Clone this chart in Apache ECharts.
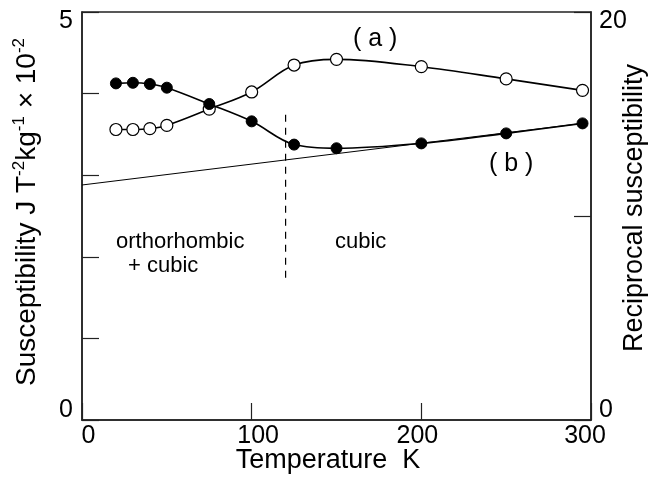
<!DOCTYPE html>
<html>
<head>
<meta charset="utf-8">
<script src="https://cdn.jsdelivr.net/npm/echarts@6/dist/echarts.min.js"></script>
<style>
  html, body { margin: 0; padding: 0; background: #fff; }
  #chart { width: 650px; height: 480px; }
</style>
</head>
<body>
<div id="chart"></div>
<script>
// temperatures (K) of the measured points
const temps = [20, 30, 40, 50, 75, 100, 125, 150, 200, 250, 295];
// (a) susceptibility, left axis (x 10^-2)
const suscA = [3.56, 3.56, 3.57, 3.61, 3.81, 4.02, 4.35, 4.42, 4.33, 4.18, 4.04];
// (b) reciprocal susceptibility, right axis
const recipB = [16.5, 16.53, 16.47, 16.29, 15.49, 14.64, 13.5, 13.32, 13.56, 14.05, 14.54];
// straight Curie-Weiss line (right axis)
const lineT = [0, 295];
const lineV = [11.52, 14.54];
// phase boundary (dashed), left axis values
const boundaryT = 120;
const boundaryV = [3.74, 1.67];

const font = 'Liberation Sans, Arial, sans-serif';

const chart = echarts.init(document.getElementById('chart'));

// nudge labels the way they sit in the figure
function xLabel(v) {
  if (v === 0) return '{r|0}';
  if (v === 100) return '{r|100}';
  if (v === 200) return '{l|200}';
  if (v === 300) return '{l2|300}';
  return '';
}

const option = {
  animation: false,
  backgroundColor: '#fff',
  grid: {
    left: 82, right: 59, top: 12, bottom: 60,
    containLabel: false, outerBoundsMode: 'none',
    show: true, borderColor: '#222', borderWidth: 1.5
  },
  xAxis: {
    type: 'value', min: 0, max: 300, interval: 100,
    name: 'Temperature  K',
    nameLocation: 'middle', nameGap: 27, nameMoveOverlap: false,
    nameTextStyle: { fontFamily: font, fontSize: 27, color: '#000', padding: [0, 17, 0, 0] },
    axisLine: { show: true, lineStyle: { color: '#222', width: 1.5 } },
    axisTick: { show: true, inside: true, length: 17, lineStyle: { color: '#222', width: 1.2 } },
    splitLine: { show: false },
    axisLabel: {
      margin: 4, fontFamily: font, fontSize: 25, color: '#000',
      formatter: xLabel,
      rich: {
        r: { fontFamily: font, fontSize: 25, color: '#000', padding: [0, 0, 0, 13] },
        l: { fontFamily: font, fontSize: 25, color: '#000', padding: [0, 8, 0, 0] },
        l2: { fontFamily: font, fontSize: 25, color: '#000', padding: [0, 12, 0, 0] }
      }
    }
  },
  yAxis: [
    {
      type: 'value', min: 0, max: 5, interval: 1, position: 'left',
      name: '{m|Susceptibility J T}{s|-2}{m|kg}{s|-1}{m| × 10}{s|-2}',
      nameLocation: 'middle', nameGap: 41, nameRotate: 90, nameMoveOverlap: false,
      nameTextStyle: {
        padding: [0, 0, 0, 8],
        rich: {
          m: { fontFamily: font, fontSize: 28, color: '#000', lineHeight: 30, verticalAlign: 'bottom' },
          s: { fontFamily: font, fontSize: 17, color: '#000', lineHeight: 30, verticalAlign: 'top', padding: [0, 0, 12, 0] }
        }
      },
      axisLine: { show: true, lineStyle: { color: '#222', width: 1.5 } },
      axisTick: { show: true, inside: true, length: 17, lineStyle: { color: '#222', width: 1.2 } },
      splitLine: { show: false },
      axisLabel: {
        margin: 9, fontFamily: font, fontSize: 25, color: '#000',
        formatter: function (v) {
          if (v === 5) return '{t|5}';
          if (v === 0) return '{b|0}';
          return '';
        },
        rich: {
          t: { fontFamily: font, fontSize: 25, color: '#000', padding: [18, 0, 0, 0] },
          b: { fontFamily: font, fontSize: 25, color: '#000', padding: [0, 0, 20, 0] }
        }
      }
    },
    {
      type: 'value', min: 0, max: 20, interval: 10, position: 'right',
      name: 'Reciprocal susceptibility',
      nameLocation: 'middle', nameGap: 30, nameRotate: 90, nameMoveOverlap: false,
      nameTextStyle: { fontFamily: font, fontSize: 27, color: '#000', padding: [0, 0, 0, 16] },
      axisLine: { show: true, lineStyle: { color: '#222', width: 1.5 } },
      axisTick: { show: true, inside: true, length: 17, lineStyle: { color: '#222', width: 1.2 } },
      splitLine: { show: false },
      axisLabel: {
        margin: 8, fontFamily: font, fontSize: 25, color: '#000',
        formatter: function (v) {
          if (v === 20) return '{t|20}';
          if (v === 0) return '{b|0}';
          return '';
        },
        rich: {
          t: { fontFamily: font, fontSize: 25, color: '#000', padding: [18, 0, 0, 0] },
          b: { fontFamily: font, fontSize: 25, color: '#000', padding: [0, 0, 20, 0] }
        }
      }
    }
  ],
  series: [
    {
      name: 'line', type: 'line', yAxisIndex: 1,
      data: lineT.map((t, i) => [t, lineV[i]]),
      showSymbol: false, symbol: 'none',
      lineStyle: { color: '#000', width: 1 }, z: 1
    },
    {
      name: 'boundary', type: 'line', yAxisIndex: 0,
      data: boundaryV.map(v => [boundaryT, v]),
      symbol: 'none',
      lineStyle: { color: '#000', width: 1.2, type: [7, 6] }, z: 1
    },
    {
      name: '(a)', type: 'line', yAxisIndex: 0,
      data: temps.map((t, i) => [t, suscA[i]]),
      smooth: 0.35,
      symbol: 'circle', symbolSize: 12,
      itemStyle: { color: '#fff', borderColor: '#000', borderWidth: 1.2 },
      lineStyle: { color: '#000', width: 1.6 }, z: 2
    },
    {
      name: '(b)', type: 'line', yAxisIndex: 1,
      data: temps.map((t, i) => [t, recipB[i]]),
      smooth: 0.35,
      symbol: 'circle', symbolSize: 11,
      itemStyle: { color: '#000', borderColor: '#000', borderWidth: 1 },
      lineStyle: { color: '#000', width: 1.6 }, z: 3
    }
  ],
  graphic: [
    { type: 'text', left: 353, top: 27, style: { text: '( a )', font: '25px ' + font, fill: '#000' } },
    { type: 'text', left: 489, top: 152, style: { text: '( b )', font: '25px ' + font, fill: '#000' } },
    { type: 'text', left: 116, top: 231, style: { text: 'orthorhombic', font: '22px ' + font, fill: '#000' } },
    { type: 'text', left: 128, top: 255, style: { text: '+ cubic', font: '22px ' + font, fill: '#000' } },
    { type: 'text', left: 335, top: 231, style: { text: 'cubic', font: '22px ' + font, fill: '#000' } }
  ]
};

chart.setOption(option);
</script>
</body>
</html>
